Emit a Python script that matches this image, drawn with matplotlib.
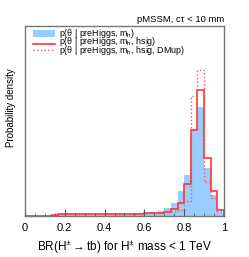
import numpy as np
import matplotlib
matplotlib.use("Agg")
from matplotlib import pyplot as plt
from matplotlib.patches import Rectangle

plt.rcParams['font.family'] = ['Liberation Sans', 'DejaVu Sans']
plt.rcParams['mathtext.fontset'] = 'custom'
plt.rcParams['mathtext.rm'] = 'Liberation Sans'
plt.rcParams['mathtext.it'] = 'Liberation Sans'

# 30 bins on BR in [0, 1], arbitrary density units
br_edges = np.linspace(0, 1, 31)
p_mh = [0.3, 0.3, 0.4, 0.6, 1.8, 2.0, 2.2, 2.0, 2.0, 2.0,
        2.0, 2.0, 2.2, 2.0, 2.0, 2.2, 2.5, 3.0, 3.0, 4.0,
        5.5, 8.2, 13.8, 25.8, 42.0, 86.5, 109.8, 48.8, 21.5, 4.5]
p_hsig = [0, 0, 0, 0, 1.5, 2.3, 2.3, 2.3, 2.2, 2.2,
          2.2, 2.3, 2.3, 2.2, 2.3, 2.4, 2.5, 2.8, 3.0, 3.5,
          3.5, 4.0, 7.0, 13.8, 32.5, 87.0, 126.5, 59.0, 26.0, 6.0]
p_dmup = [0, 0, 0, 0, 1.8, 2.5, 2.6, 2.5, 2.5, 2.4,
          2.5, 2.5, 2.6, 2.5, 2.5, 2.6, 2.8, 3.0, 3.0, 3.0,
          3.0, 5.0, 5.0, 6.0, 16.0, 120.8, 146.5, 34.8, 18.5, 5.0]

labels = [r'p(θ | preHiggs, m$_\mathrm{h}$)',
          r'p(θ | preHiggs, m$_\mathrm{h}$, hsig)',
          r'p(θ | preHiggs, m$_\mathrm{h}$, hsig, DMup)']

blue = '#99ccff'
red = '#ff3333'
red2 = '#ff5555'

fig = plt.figure(figsize=(2.49, 2.57), dpi=100)
ax = fig.add_axes([0.1004, 0.1576, 0.799, 0.741])

ax.stairs(p_mh, br_edges, fill=True, color=blue, lw=0)
ax.stairs(p_hsig, br_edges, color=red, lw=1.2)
ax.stairs(p_dmup, br_edges, color=red2, lw=1.0, ls=':')

ax.set_xlim(0, 1)
ax.set_ylim(0, 190.5)
ax.set_yticks([])
ax.set_xticks([0, 0.2, 0.4, 0.6, 0.8, 1.0])
ax.set_xticklabels(['0', '0.2', '0.4', '0.6', '0.8', '1'])
ax.set_xticks(np.arange(0, 1.001, 0.05), minor=True)
ax.tick_params(axis='x', which='major', direction='in', length=5, width=0.8,
               color='#555555', labelsize=8, pad=5)
ax.tick_params(axis='x', which='minor', direction='in', length=2.5, width=0.6,
               color='#555555')
for s in ax.spines.values():
    s.set_color('#777777')
    s.set_linewidth(1.0)

ax.set_xlabel(r'BR(H$^{\pm}\rightarrow$tb) for H$^{\pm}$ mass < 1 TeV', fontsize=8.5)
ax.text(-0.07, 0.572, 'Probability density', transform=ax.transAxes,
        rotation=90, ha='center', va='center', fontsize=7)

ax.text(1.0, 1.01, 'pMSSM, cτ < 10 mm', transform=ax.transAxes,
        ha='right', va='bottom', fontsize=6.8)

# legend, drawn by hand (entries sit close together, as in the original)
tr = ax.transAxes
ax.add_patch(Rectangle((0.04, 0.944), 0.111, 0.036, transform=tr,
                       facecolor=blue, edgecolor='none'))
ax.plot([0.04, 0.151], [0.906, 0.906], transform=tr, color=red, lw=1.2)
ax.plot([0.04, 0.151], [0.872, 0.872], transform=tr, color=red2, lw=1.0, ls=':')
for yy, lab in zip([0.962, 0.918, 0.874], labels):
    ax.text(0.171, yy, lab, transform=tr, ha='left', va='center', fontsize=6.4)

fig.savefig('out.png', dpi=100)
